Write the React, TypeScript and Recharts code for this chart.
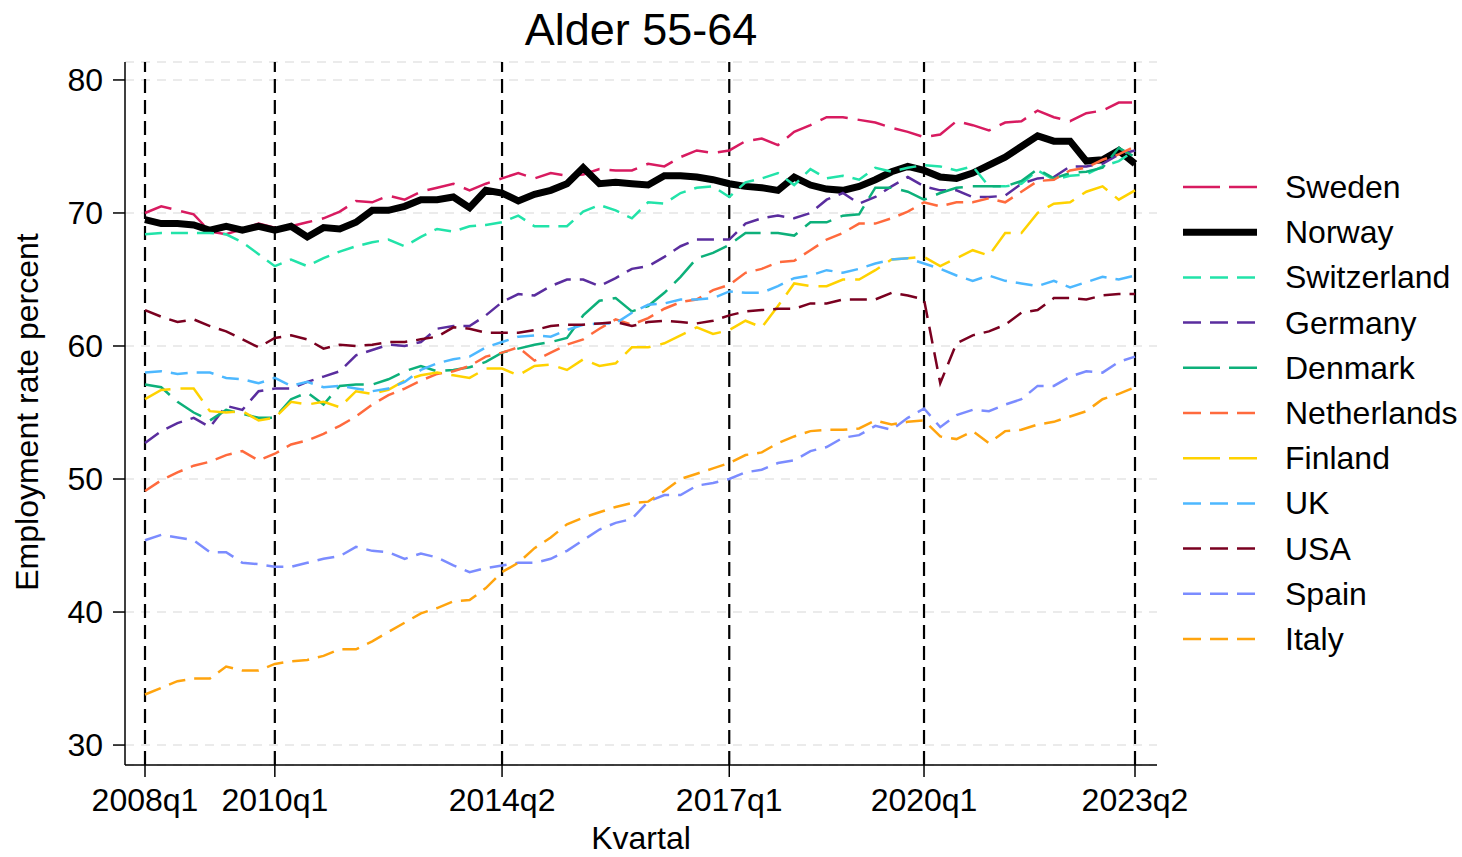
import { LineChart, Line, XAxis, YAxis, CartesianGrid, ReferenceLine } from 'recharts';

// quarter labels, 2008q1 .. 2023q2
const quarters = Array.from({ length: 62 }, (_, i) => `${2008 + Math.floor(i / 4)}q${(i % 4) + 1}`);

const tickPositions = [0, 8, 22, 36, 48, 61];
const tickLabels = ['2008q1', '2010q1', '2014q2', '2017q1', '2020q1', '2023q2'];
const yTicks = [30, 40, 50, 60, 70, 80];

const sweden = [70.0, 70.5, 70.2, 69.9, 68.6, 68.4, 68.8, 69.2, 68.9, 69.0, 69.3, 69.6, 70.1, 70.9, 70.8, 71.3, 71.0, 71.6, 71.9, 72.2, 71.7, 72.2, 72.6, 73.0, 72.6, 73.0, 72.8, 72.9, 73.3, 73.2, 73.2, 73.7, 73.5, 74.2, 74.7, 74.5, 74.7, 75.4, 75.6, 75.1, 76.1, 76.6, 77.2, 77.2, 77.0, 76.8, 76.4, 76.1, 75.7, 75.9, 76.9, 76.6, 76.2, 76.8, 76.9, 77.7, 77.2, 76.9, 77.5, 77.7, 78.3, 78.3];
const norway = [69.5, 69.2, 69.2, 69.1, 68.7, 69.0, 68.7, 69.0, 68.7, 69.0, 68.2, 68.9, 68.8, 69.3, 70.2, 70.2, 70.5, 71.0, 71.0, 71.2, 70.4, 71.7, 71.5, 70.9, 71.4, 71.7, 72.2, 73.4, 72.2, 72.3, 72.2, 72.1, 72.8, 72.8, 72.7, 72.5, 72.2, 72.0, 71.9, 71.7, 72.7, 72.1, 71.8, 71.7, 72.0, 72.5, 73.1, 73.5, 73.2, 72.7, 72.6, 73.0, 73.6, 74.2, 75.0, 75.8, 75.4, 75.4, 73.9, 74.0, 74.7, 73.7];
const switzerland = [68.4, 68.5, 68.5, 68.5, 68.5, 68.4, 67.8, 66.9, 66.0, 66.5, 66.0, 66.6, 67.1, 67.5, 67.8, 68.0, 67.5, 68.2, 68.8, 68.6, 69.0, 69.1, 69.3, 69.8, 69.0, 69.0, 69.0, 70.1, 70.6, 70.2, 69.6, 70.8, 70.7, 71.5, 71.9, 72.0, 71.2, 72.3, 72.6, 73.0, 72.1, 73.3, 72.6, 72.8, 72.5, 73.4, 73.1, 73.4, 73.6, 73.5, 73.2, 73.5, 72.0, 72.0, 72.2, 73.2, 72.5, 72.8, 72.9, 73.5, 73.9, 74.7];
const germany = [52.7, 53.6, 54.2, 54.6, 53.9, 55.5, 55.2, 56.6, 56.8, 56.8, 57.3, 57.7, 58.1, 59.3, 59.7, 60.1, 60.0, 60.3, 61.3, 61.5, 61.5, 62.3, 63.3, 63.9, 63.8, 64.5, 65.0, 65.0, 64.5, 65.1, 65.8, 66.0, 66.7, 67.5, 68.0, 68.0, 68.0, 69.2, 69.6, 69.8, 69.6, 70.0, 71.0, 71.5, 70.7, 71.2, 72.0, 72.7, 72.0, 71.7, 71.7, 71.2, 71.2, 71.3, 72.2, 72.6, 72.7, 73.5, 73.5, 73.7, 74.4, 74.7];
const denmark = [57.1, 56.9, 55.8, 55.0, 54.4, 55.2, 54.9, 54.6, 54.6, 56.0, 56.5, 55.6, 57.0, 57.1, 57.1, 57.5, 58.1, 58.5, 58.1, 58.2, 58.4, 58.8, 59.5, 59.8, 60.1, 60.3, 60.6, 62.3, 63.4, 63.6, 62.6, 63.0, 64.0, 65.2, 66.6, 67.0, 67.6, 68.5, 68.5, 68.5, 68.3, 69.3, 69.3, 69.8, 69.9, 71.9, 71.9, 71.6, 71.0, 71.5, 71.9, 72.0, 72.0, 72.0, 72.4, 73.3, 72.6, 73.0, 73.1, 73.4, 74.9, 74.2];
const netherlands = [49.1, 49.9, 50.5, 51.0, 51.3, 51.8, 52.1, 51.4, 51.9, 52.6, 52.9, 53.4, 54.0, 54.7, 55.6, 56.3, 56.8, 57.4, 57.9, 58.1, 58.5, 59.2, 59.5, 59.9, 58.9, 59.5, 60.1, 60.5, 61.3, 62.0, 61.6, 62.1, 62.8, 63.3, 63.5, 64.2, 64.6, 65.5, 65.8, 66.3, 66.4, 67.2, 68.0, 68.5, 69.2, 69.2, 69.6, 70.1, 70.8, 70.5, 70.8, 70.8, 71.1, 70.8, 71.6, 72.4, 72.5, 73.2, 73.4, 74.0, 74.4, 75.0];
const finland = [56.0, 56.7, 56.8, 56.8, 55.1, 55.0, 55.1, 54.4, 54.6, 55.8, 55.6, 55.8, 55.4, 56.6, 56.4, 56.7, 57.4, 57.8, 58.0, 57.8, 57.6, 58.3, 58.3, 57.8, 58.5, 58.6, 58.2, 59.0, 58.5, 58.7, 59.9, 59.9, 60.2, 60.8, 61.4, 60.9, 61.2, 61.9, 61.4, 63.0, 64.7, 64.5, 64.5, 65.0, 65.0, 65.7, 66.5, 66.6, 66.7, 66.0, 66.6, 67.2, 66.8, 68.5, 68.5, 70.0, 70.7, 70.8, 71.6, 72.0, 71.0, 71.7];
const uk = [58.0, 58.1, 57.9, 58.0, 58.0, 57.6, 57.5, 57.2, 57.6, 57.0, 57.3, 56.9, 57.0, 56.8, 56.6, 56.8, 57.3, 58.2, 58.7, 59.0, 59.2, 59.9, 60.3, 60.7, 60.8, 60.7, 61.2, 61.6, 61.7, 61.7, 62.5, 63.1, 63.2, 63.5, 63.5, 63.6, 64.1, 64.0, 64.0, 64.5, 65.1, 65.3, 65.7, 65.5, 65.8, 66.2, 66.5, 66.6, 66.2, 65.8, 65.3, 64.9, 65.3, 64.9, 64.7, 64.5, 64.9, 64.4, 64.8, 65.2, 65.0, 65.3];
const usa = [62.7, 62.2, 61.8, 62.0, 61.5, 61.1, 60.5, 59.9, 60.6, 60.8, 60.5, 59.8, 60.1, 60.0, 60.1, 60.3, 60.3, 60.5, 60.7, 61.4, 61.3, 61.0, 61.0, 61.0, 61.2, 61.5, 61.6, 61.6, 61.7, 61.8, 61.5, 61.8, 61.9, 61.8, 61.7, 61.9, 62.3, 62.6, 62.7, 62.8, 62.8, 63.2, 63.2, 63.5, 63.5, 63.5, 64.0, 63.8, 63.5, 57.2, 60.2, 60.8, 61.1, 61.6, 62.5, 62.7, 63.6, 63.6, 63.5, 63.8, 63.9, 63.9];
const spain = [45.4, 45.8, 45.6, 45.4, 44.5, 44.5, 43.7, 43.6, 43.4, 43.4, 43.7, 44.0, 44.2, 44.9, 44.6, 44.5, 44.0, 44.4, 44.1, 43.5, 43.0, 43.3, 43.5, 43.7, 43.7, 44.0, 44.6, 45.4, 46.2, 46.7, 47.0, 48.3, 48.8, 48.8, 49.5, 49.7, 50.0, 50.5, 50.7, 51.2, 51.4, 52.1, 52.4, 53.1, 53.3, 54.0, 53.7, 54.6, 55.3, 53.9, 54.8, 55.2, 55.1, 55.6, 56.0, 57.0, 57.0, 57.7, 58.1, 58.0, 58.8, 59.2];
const italy = [33.8, 34.3, 34.8, 35.0, 35.0, 35.9, 35.6, 35.6, 36.1, 36.3, 36.4, 36.7, 37.2, 37.2, 37.8, 38.5, 39.2, 39.9, 40.3, 40.8, 40.9, 41.8, 43.0, 43.7, 44.8, 45.6, 46.6, 47.1, 47.5, 47.9, 48.2, 48.3, 49.1, 50.0, 50.4, 50.8, 51.2, 51.8, 52.0, 52.7, 53.2, 53.6, 53.7, 53.7, 53.8, 54.4, 54.1, 54.3, 54.4, 53.2, 53.0, 53.6, 52.7, 53.6, 53.7, 54.1, 54.3, 54.7, 55.1, 56.0, 56.4, 56.9];

const LONG = '28 10';
const SHORT = '17 9';

const series = [
  { name: 'Sweden', values: sweden, color: '#D81B60', dash: LONG, width: 2.5 },
  { name: 'Norway', values: norway, color: '#000000', dash: undefined, width: 7 },
  { name: 'Switzerland', values: switzerland, color: '#22E3A9', dash: SHORT, width: 2.5 },
  { name: 'Germany', values: germany, color: '#5A2D9E', dash: SHORT, width: 2.5 },
  { name: 'Denmark', values: denmark, color: '#0DB07A', dash: LONG, width: 2.5 },
  { name: 'Netherlands', values: netherlands, color: '#FF6A3D', dash: SHORT, width: 2.5 },
  { name: 'Finland', values: finland, color: '#FFD200', dash: LONG, width: 2.5 },
  { name: 'UK', values: uk, color: '#4DB8FF', dash: SHORT, width: 2.5 },
  { name: 'USA', values: usa, color: '#7A0020', dash: SHORT, width: 2.5 },
  { name: 'Spain', values: spain, color: '#7B8CFF', dash: SHORT, width: 2.5 },
  { name: 'Italy', values: italy, color: '#FFA40E', dash: SHORT, width: 2.5 },
];

const chartData = quarters.map((q, i) => {
  const row: Record<string, number | string> = { idx: i, quarter: q };
  series.forEach((s) => {
    row[s.name] = s.values[i];
  });
  return row;
});

const FONT = '"Liberation Sans", Arial, sans-serif';
const TEXT = 32;

export default function App() {
  return (
    <div style={{ position: 'absolute', left: 0, top: 0, width: 1462, height: 857, background: '#fff', fontFamily: FONT }}>
      <LineChart width={1462} height={857} data={chartData} margin={{ top: 62, right: 305, bottom: 0, left: 0 }}>
        <CartesianGrid vertical={false} stroke="#ebebeb" strokeWidth={2} strokeDasharray="9 7" />
        <XAxis
          dataKey="idx"
          type="number"
          domain={[0, 61]}
          ticks={tickPositions}
          tickFormatter={(v: number) => tickLabels[tickPositions.indexOf(v)] ?? ''}
          padding={{ left: 20, right: 22 }}
          height={92}
          tickSize={12}
          tickMargin={11}
          stroke="#000"
          strokeWidth={1.5}
          tick={{ fill: '#000', fontSize: TEXT, fontFamily: FONT }}
          interval={0}
        />
        <YAxis
          type="number"
          domain={[28.5, 81.35]}
          ticks={yTicks}
          allowDataOverflow
          width={125}
          tickSize={12}
          tickMargin={10}
          stroke="#000"
          strokeWidth={1.5}
          tick={{ fill: '#000', fontSize: TEXT, fontFamily: FONT }}
        />
        {tickPositions.map((p) => (
          <ReferenceLine key={p} x={p} stroke="#000" strokeWidth={2.2} strokeDasharray="14 7" />
        ))}
        {series.map((s) => (
          <Line
            key={s.name}
            type="linear"
            dataKey={s.name}
            stroke={s.color}
            strokeWidth={s.width}
            strokeDasharray={s.dash}
            dot={false}
            activeDot={false}
            isAnimationActive={false}
          />
        ))}
      </LineChart>

      <svg width={1462} height={857} style={{ position: 'absolute', left: 0, top: 0, pointerEvents: 'none' }}>
        <text x={641} y={45} textAnchor="middle" fontSize={45} fontFamily={FONT} fill="#000">
          Alder 55-64
        </text>
        <text x={641} y={849} textAnchor="middle" fontSize={TEXT} fontFamily={FONT} fill="#000">
          Kvartal
        </text>
        <text
          x={0}
          y={0}
          transform="translate(38 412) rotate(-90)"
          textAnchor="middle"
          fontSize={TEXT}
          fontFamily={FONT}
          fill="#000"
        >
          Employment rate percent
        </text>
        {series.map((s, i) => {
          const y = 187 + i * 45.2;
          return (
            <g key={s.name}>
              <line
                x1={1183}
                x2={1257}
                y1={y}
                y2={y}
                stroke={s.color}
                strokeWidth={s.width}
                strokeDasharray={s.name === 'Norway' ? undefined : s.dash === LONG ? '37 9' : '18 9'}
              />
              <text x={1285} y={y + 11} fontSize={TEXT} fontFamily={FONT} fill="#000">
                {s.name}
              </text>
            </g>
          );
        })}
      </svg>
    </div>
  );
}
